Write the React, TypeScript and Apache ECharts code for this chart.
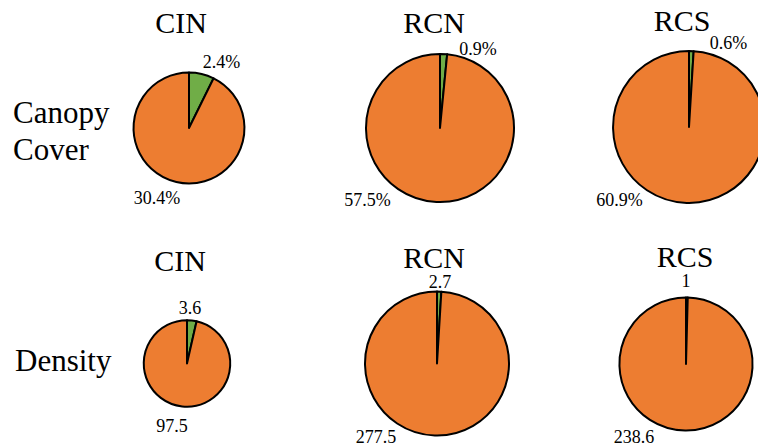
import { useEffect, useRef } from "react";
import * as echarts from "echarts";

// Site columns and measurement rows
const sites = ["CIN", "RCN", "RCS"];
const rowNames = ["Canopy\nCover", "Density"];

// Canopy cover (%): small share (green) and main share (orange)
const canopySmall = [2.4, 0.9, 0.6];
const canopyMain = [30.4, 57.5, 60.9];

// Density: small share (green) and main share (orange)
const densitySmall = [3.6, 2.7, 1];
const densityMain = [97.5, 277.5, 238.6];

const SERIF = "'Liberation Serif', 'Times New Roman', serif";
const GREEN = "#70AD47";
const ORANGE = "#ED7D31";

// Pie area scales with the row total: radius = k * sqrt(total)
const rowScale = [74 / Math.sqrt(58.4), 72 / Math.sqrt(280.2)];

// Pie centres per row / column
const centers = [
  [[189, 128], [440, 128], [689, 127]],
  [[187, 363.5], [437, 363.5], [686, 364]],
];

// Label anchor offsets from each pie centre: [small slice, main slice]
const labelOffsets = [
  [
    [[32.5, -66], [-32, 70]],
    [[38, -79], [-72.5, 72]],
    [[39.5, -84], [-69.5, 73]],
  ],
  [
    [[3, -56], [-15, 62]],
    [[3, -81.5], [-61, 73]],
    [[0, -83], [-52, 72.5]],
  ],
];

// Column title centres per row
const titleSpots = [
  [[181, 22], [434, 22], [682, 20]],
  [[180, 260], [434, 257], [685, 256]],
];

export default function App() {
  const ref = useRef<HTMLDivElement>(null);

  useEffect(() => {
    if (!ref.current) return;
    const chart = echarts.init(ref.current, null, { renderer: "svg" });

    const rows = [
      { small: canopySmall, main: canopyMain, suffix: "%" },
      { small: densitySmall, main: densityMain, suffix: "" },
    ];

    const series: any[] = [];
    rows.forEach((row, r) => {
      sites.forEach((_, c) => {
        const small = row.small[c];
        const main = row.main[c];
        const [cx, cy] = centers[r][c];
        const radius = rowScale[r] * Math.sqrt(small + main);
        const offs = labelOffsets[r][c];
        series.push({
          type: "pie",
          center: [cx, cy],
          radius,
          startAngle: 90,
          clockwise: true,
          silent: true,
          avoidLabelOverlap: false,
          itemStyle: { borderColor: "#000", borderWidth: 2 },
          label: {
            show: true,
            position: "outside",
            formatter: (p: any) => `${p.value}${row.suffix}`,
            fontFamily: SERIF,
            fontSize: 18,
            color: "#000",
          },
          labelLine: { show: false },
          labelLayout: (p: any) => {
            const o = offs[p.dataIndex];
            return {
              x: cx + o[0],
              y: cy + o[1],
              align: "center",
              verticalAlign: "middle",
            };
          },
          data: [
            { value: small, name: "small", itemStyle: { color: GREEN } },
            { value: main, name: "main", itemStyle: { color: ORANGE } },
          ],
        });
      });
    });

    const graphics: any[] = [];
    titleSpots.forEach((row) =>
      row.forEach(([x, y], c) => {
        graphics.push({
          type: "text",
          x,
          y,
          style: {
            text: sites[c],
            font: `30px ${SERIF}`,
            fill: "#000",
            align: "center",
            verticalAlign: "middle",
          },
        });
      })
    );
    graphics.push({
      type: "text",
      x: 13,
      y: 131,
      style: {
        text: rowNames[0],
        font: `31px ${SERIF}`,
        lineHeight: 37,
        fill: "#000",
        align: "left",
        verticalAlign: "middle",
      },
    });
    graphics.push({
      type: "text",
      x: 15,
      y: 360,
      style: {
        text: rowNames[1],
        font: `31px ${SERIF}`,
        fill: "#000",
        align: "left",
        verticalAlign: "middle",
      },
    });

    chart.setOption({
      animation: false,
      backgroundColor: "#fff",
      graphic: graphics,
      series,
    });

    return () => chart.dispose();
  }, []);

  return (
    <div
      ref={ref}
      style={{ position: "fixed", left: 0, top: 0, width: 758, height: 446 }}
    />
  );
}
